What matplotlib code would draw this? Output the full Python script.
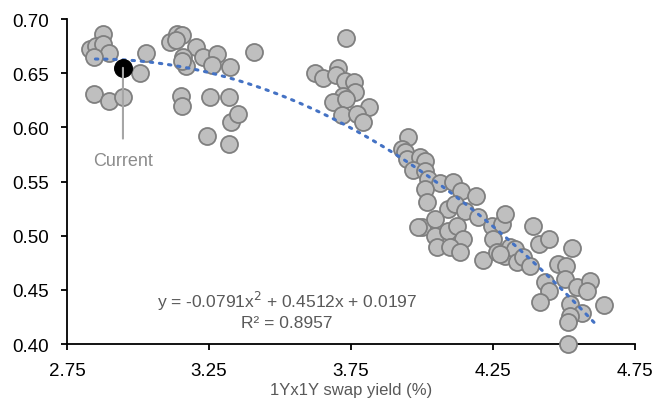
import numpy as np
import matplotlib.pyplot as plt

plt.rcParams['font.family'] = ['Liberation Sans', 'DejaVu Sans']

# 1Yx1Y swap yield (%) vs ratio
swap_yield = [
    2.877, 2.831, 2.852, 2.877, 2.898, 2.845, 3.028, 3.007, 2.845, 2.898, 2.947,
    3.113, 3.137, 3.155, 3.134, 3.204, 3.158, 3.169, 3.155, 3.229, 3.278, 3.261,
    3.324, 3.151, 3.155, 3.254, 3.320, 3.327, 3.352, 3.243, 3.320, 3.408,
    3.732, 3.623, 3.651, 3.704, 3.697, 3.729, 3.761, 3.764, 3.722, 3.687, 3.732,
    3.813, 3.718, 3.771, 3.792,
    3.951, 3.930, 3.940, 3.947, 3.993, 4.011, 3.968, 4.011, 4.021, 4.063, 4.109,
    4.011, 4.018, 4.092, 4.137, 4.190, 4.116, 4.151, 4.197, 4.000, 3.986, 4.046,
    4.046, 4.092, 4.123, 4.144, 4.053, 4.099, 4.134, 4.215, 4.246, 4.282, 4.292,
    4.250, 4.264, 4.292, 4.310, 4.327, 4.335, 4.275, 4.356, 4.380, 4.391, 4.412,
    4.447, 4.528, 4.479, 4.507, 4.433, 4.447, 4.504, 4.546, 4.592, 4.581, 4.415,
    4.521, 4.563, 4.521, 4.514, 4.641, 4.514,
]
ratio = [
    0.686, 0.672, 0.675, 0.677, 0.669, 0.665, 0.669, 0.650, 0.631, 0.624, 0.628,
    0.679, 0.686, 0.685, 0.681, 0.674, 0.665, 0.657, 0.661, 0.665, 0.668, 0.658,
    0.656, 0.629, 0.620, 0.628, 0.628, 0.605, 0.612, 0.592, 0.585, 0.670,
    0.683, 0.650, 0.646, 0.655, 0.648, 0.643, 0.642, 0.633, 0.629, 0.623, 0.626,
    0.619, 0.611, 0.612, 0.605,
    0.591, 0.580, 0.577, 0.571, 0.573, 0.569, 0.561, 0.560, 0.552, 0.549, 0.550,
    0.543, 0.531, 0.525, 0.541, 0.537, 0.529, 0.523, 0.517, 0.508, 0.508, 0.515,
    0.500, 0.504, 0.509, 0.497, 0.490, 0.490, 0.485, 0.478, 0.509, 0.511, 0.520,
    0.497, 0.485, 0.481, 0.490, 0.488, 0.476, 0.483, 0.480, 0.472, 0.509, 0.492,
    0.497, 0.489, 0.474, 0.472, 0.457, 0.449, 0.460, 0.453, 0.458, 0.449, 0.439,
    0.437, 0.429, 0.426, 0.420, 0.436, 0.400,
]

current_yield = 2.947
current_ratio = 0.655

# trendline shown on the chart
trend_coef = [-0.0791, 0.4512, 0.0197]
trend_r2 = 0.8957
trend_start, trend_end = 2.85, 4.62

x_ticks = [2.75, 3.25, 3.75, 4.25, 4.75]
y_ticks = [0.40, 0.45, 0.50, 0.55, 0.60, 0.65, 0.70]

fig = plt.figure(figsize=(6.66, 4.10), dpi=100)
ax = fig.add_axes([0.1006, 0.1585, 0.853, 0.7925])

ax.scatter(swap_yield, ratio, s=150, facecolor='#bfbfbf', edgecolor='#7f7f7f',
           linewidth=1.3, zorder=3, clip_on=False)

tx = np.linspace(trend_start, trend_end, 200)
ax.plot(tx, np.polyval(trend_coef, tx), color='#4472c4', linestyle=(0, (0.8, 2.2)),
        linewidth=2.2, dash_capstyle='round', zorder=4)

ax.scatter([current_yield], [current_ratio], s=160, color='black', zorder=5)
ax.annotate('Current', xy=(current_yield, current_ratio), xytext=(current_yield, 0.569),
            ha='center', va='center', fontsize=13, color='#8c8c8c',
            arrowprops=dict(arrowstyle='-', color='#a6a6a6', lw=1.5,
                            shrinkA=8, shrinkB=0), zorder=6)

eq = 'y = {:.4f}x$^2$ + {:.4f}x + {:.4f}\nR² = {:.4f}'.format(
    trend_coef[0], trend_coef[1], trend_coef[2], trend_r2)
ax.text(3.525, 0.432, eq, ha='center', va='center', fontsize=12.5,
        color='#595959', linespacing=1.25)

ax.set_xlim(2.75, 4.75)
ax.set_ylim(0.40, 0.70)
ax.set_xticks(x_ticks)
ax.set_xticklabels(['{:.2f}'.format(v) for v in x_ticks])
ax.set_yticks(y_ticks)
ax.set_yticklabels(['{:.2f}'.format(v) for v in y_ticks])

for s in ['top', 'right']:
    ax.spines[s].set_visible(False)
for s in ['left', 'bottom']:
    ax.spines[s].set_linewidth(1.3)
    ax.spines[s].set_zorder(2)
ax.tick_params(axis='both', direction='out', length=4, width=1.3,
               labelsize=13.5, colors='black')
ax.tick_params(axis='x', pad=9)
ax.tick_params(axis='y', pad=9)

ax.set_xlabel('1Yx1Y swap yield (%)', fontsize=12, color='#595959', labelpad=2)

fig.savefig('out.png', dpi=100)
